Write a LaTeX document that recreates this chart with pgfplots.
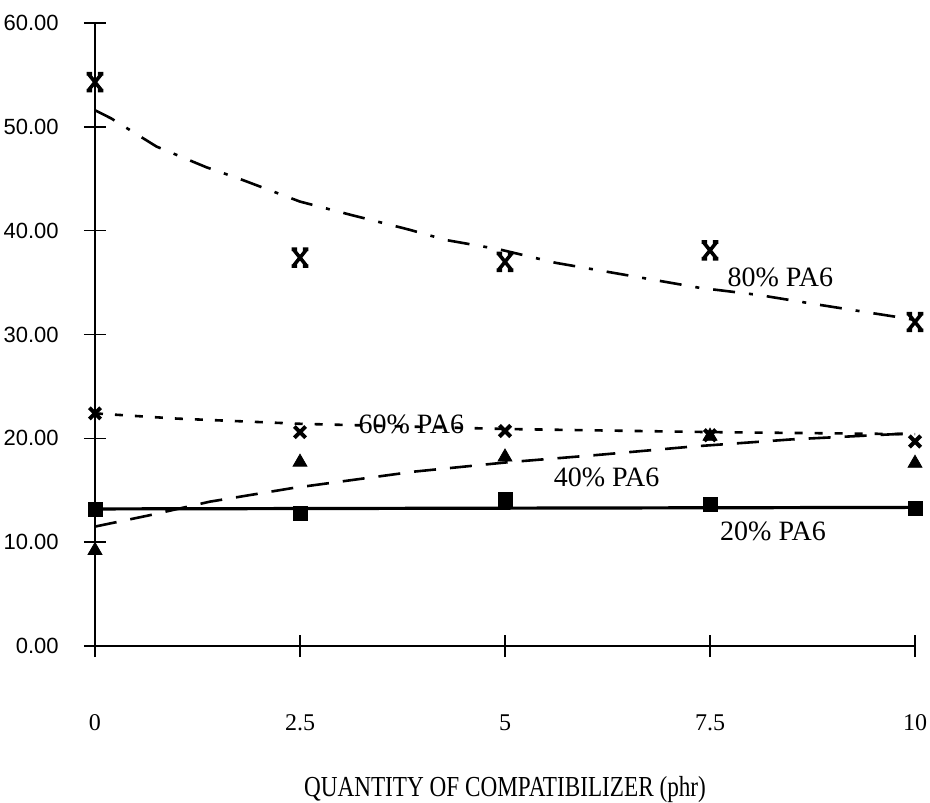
\documentclass[border=0pt]{standalone}
\usepackage{fontspec}
\setmainfont{Liberation Serif}
\newfontfamily\ticksans{Liberation Sans}
\newfontfamily\condserif[FakeStretch=0.8]{Liberation Serif}
\usepackage{pgfplots}
\pgfplotsset{compat=1.18}

% X with short horizontal bars at top and bottom
\pgfdeclareplotmark{barx}{%
  \pgfpathmoveto{\pgfqpoint{-0.8\pgfplotmarksize}{-\pgfplotmarksize}}%
  \pgfpathlineto{\pgfqpoint{0.8\pgfplotmarksize}{\pgfplotmarksize}}%
  \pgfpathmoveto{\pgfqpoint{-0.8\pgfplotmarksize}{\pgfplotmarksize}}%
  \pgfpathlineto{\pgfqpoint{0.8\pgfplotmarksize}{-\pgfplotmarksize}}%
  \pgfpathmoveto{\pgfqpoint{-\pgfplotmarksize}{\pgfplotmarksize}}%
  \pgfpathlineto{\pgfqpoint{-0.35\pgfplotmarksize}{\pgfplotmarksize}}%
  \pgfpathmoveto{\pgfqpoint{0.35\pgfplotmarksize}{\pgfplotmarksize}}%
  \pgfpathlineto{\pgfqpoint{\pgfplotmarksize}{\pgfplotmarksize}}%
  \pgfpathmoveto{\pgfqpoint{-\pgfplotmarksize}{-\pgfplotmarksize}}%
  \pgfpathlineto{\pgfqpoint{-0.35\pgfplotmarksize}{-\pgfplotmarksize}}%
  \pgfpathmoveto{\pgfqpoint{0.35\pgfplotmarksize}{-\pgfplotmarksize}}%
  \pgfpathlineto{\pgfqpoint{\pgfplotmarksize}{-\pgfplotmarksize}}%
  \pgfusepathqstroke}

\begin{document}
\begin{tikzpicture}
\begin{axis}[
  scale only axis, width=410pt, height=311.5pt,
  xmin=0, xmax=10, ymin=0, ymax=60,
  axis lines=left, axis line style={line width=0.9pt, -},
  clip=false,
  xtick={0,2.5,5,7.5,10}, xticklabels={0,2.5,5,7.5,10},
  ytick={0,10,20,30,40,50,60},
  yticklabels={0.00,10.00,20.00,30.00,40.00,50.00,60.00},
  tick align=center, major tick length=11pt,
  tick style={line width=0.8pt, black},
  x tick label style={font=\fontsize{12}{14}\selectfont, anchor=center, yshift=-33pt},
  y tick label style={font=\ticksans\fontsize{11}{13}\selectfont, anchor=east, inner sep=0pt, xshift=-12.5pt},
  xlabel={QUANTITY OF COMPATIBILIZER (phr)},
  xlabel style={font=\condserif\fontsize{14.5}{16}\selectfont, at={(axis description cs:0.5,0)}, anchor=center, yshift=-72pt},
]
% 80% PA6: measured points and fitted trend (dash-dot)
\addplot[only marks, mark=barx, mark size=4.2pt, line width=1.8pt]
  coordinates {(0,54.3)(2.5,37.4)(5,37.0)(7.5,38.1)(10,31.2)};
\addplot[line width=1.3pt, dash pattern=on 11pt off 7pt on 2pt off 7pt]
  coordinates {(0,51.6)(0.2,50.8)(0.75,48.1)(1.36,46.1)(1.76,45.0)(2.5,42.8)
  (3.13,41.5)(3.83,40.1)(4.28,39.1)(4.93,38.2)(5.62,36.9)(7.37,34.5)
  (8.1,33.8)(8.8,32.9)(9.77,31.7)(10,31.4)};
% 60% PA6
\addplot[only marks, mark=x, mark size=4pt, line width=2pt]
  coordinates {(0,22.4)(2.5,20.6)(5,20.7)(7.5,20.3)(10,19.7)};
\addplot[line width=1.3pt, dash pattern=on 4pt off 6pt]
  coordinates {(0,22.4)(1,21.9)(2.5,21.4)(5,20.9)(7.5,20.6)(10,20.4)};
% 40% PA6
\addplot[only marks, mark=triangle*, mark size=4pt, black]
  coordinates {(0,9.2)(2.5,17.7)(5,18.2)(7.5,20.2)(10,17.6)};
\addplot[line width=1.3pt, dash pattern=on 11pt off 7pt]
  coordinates {(0,11.5)(0.67,12.6)(1.4,13.9)(2.4,15.2)(3.9,16.8)(5.04,17.7)
  (6.13,18.4)(7.27,19.2)(8.5,19.9)(10,20.5)};
% 20% PA6
\addplot[only marks, mark=square*, mark size=3.5pt, black]
  coordinates {(0,13.2)(2.5,12.8)(5,14.1)(7.5,13.6)(10,13.3)};
\addplot[line width=1.6pt] coordinates {(0,13.2)(10,13.35)};

\begin{scope}[every node/.style={font=\fontsize{14}{16}\selectfont, anchor=west, inner sep=0pt}]
\node at (axis cs:7.71,35.5) {80\% PA6};
\node at (axis cs:3.21,21.3) {60\% PA6};
\node at (axis cs:5.59,16.2) {40\% PA6};
\node at (axis cs:7.62,11.0) {20\% PA6};
\end{scope}
\end{axis}
\pgfresetboundingbox
\path ([xshift=-47.5pt,yshift=-78pt]current axis.south west)
  rectangle ([xshift=7.5pt,yshift=11.5pt]current axis.north east);
\end{tikzpicture}
\end{document}
